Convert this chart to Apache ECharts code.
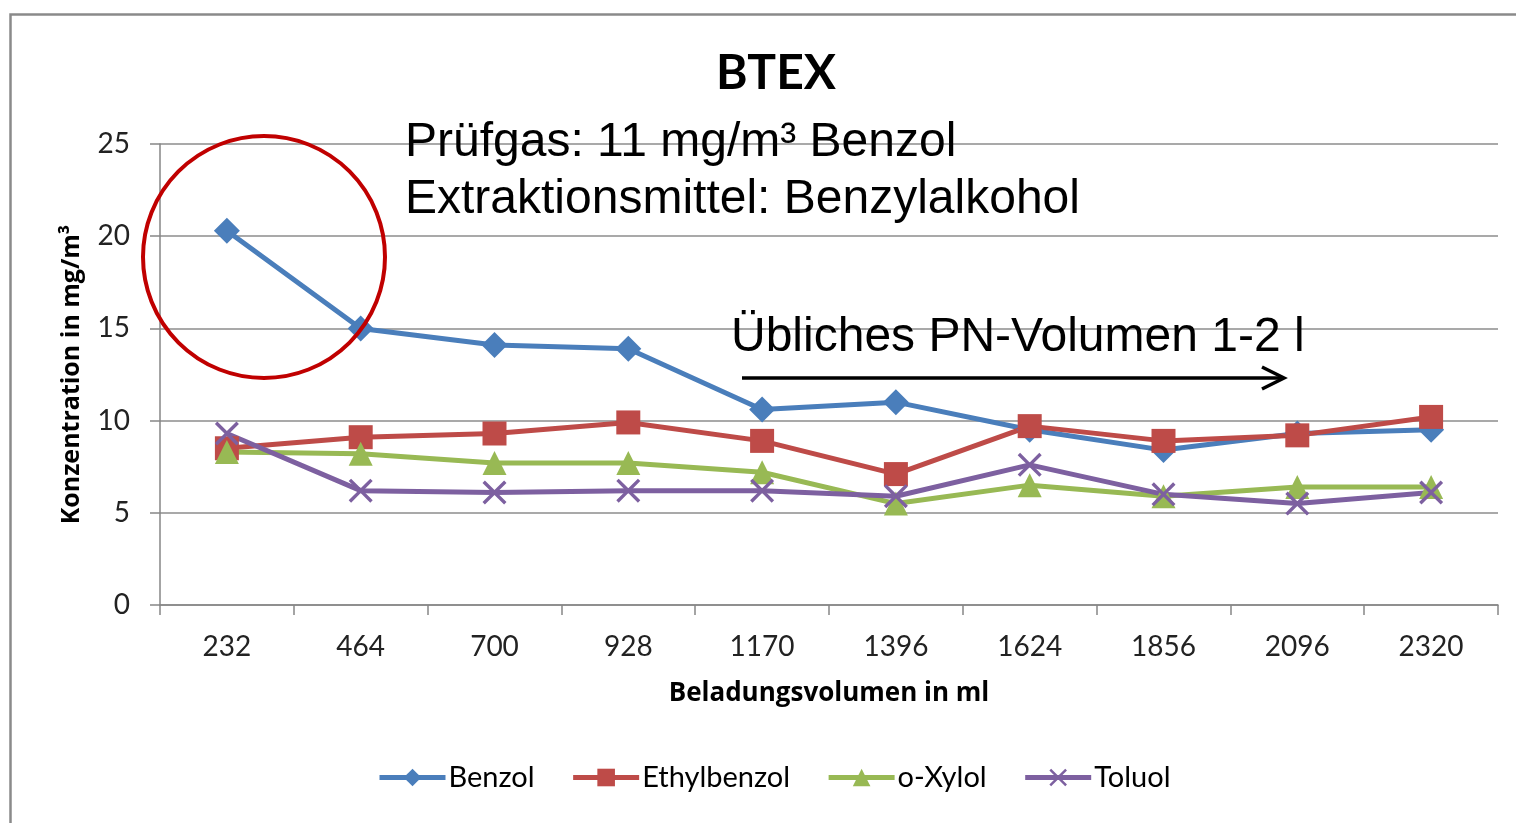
<!DOCTYPE html>
<html>
<head>
<meta charset="utf-8">
<script src="https://cdn.jsdelivr.net/npm/echarts@6/dist/echarts.min.js"></script>
<style>
  html, body { margin: 0; padding: 0; background: #fff; }
  #main { width: 1516px; height: 823px; }
</style>
</head>
<body>
<div id="main"></div>
<script>
// Daten
var volumes = ['232', '464', '700', '928', '1170', '1396', '1624', '1856', '2096', '2320'];
var benzol = [20.3, 15.0, 14.1, 13.9, 10.6, 11.0, 9.5, 8.4, 9.3, 9.5];
var ethylbenzol = [8.5, 9.1, 9.3, 9.9, 8.9, 7.1, 9.7, 8.9, 9.2, 10.2];
var oXylol = [8.3, 8.2, 7.7, 7.7, 7.2, 5.5, 6.5, 5.9, 6.4, 6.4];
var toluol = [9.3, 6.2, 6.1, 6.2, 6.2, 5.9, 7.6, 6.0, 5.5, 6.1];
var yTicks = [0, 5, 10, 15, 20, 25];

var chart = echarts.init(document.getElementById('main'));

var xPath = 'path://M0,1L1,0L5,4L9,0L10,1L6,5L10,9L9,10L5,6L1,10L0,9L4,5Z';
var labelFont = 'Lato';
var nameFont = 'Open Sans';

function mkSeries(name, data, color, symbol, size) {
    return {
        name: name,
        type: 'line',
        data: data,
        symbol: symbol,
        symbolSize: size,
        showAllSymbol: true,
        lineStyle: { color: color, width: 5 },
        itemStyle: { color: color },
        emphasis: { disabled: true }
    };
}

var option = {
    animation: false,
    backgroundColor: '#fff',
    title: {
        text: 'BTEX',
        left: 771,
        top: 45,
        textAlign: 'center',
        textStyle: { fontFamily: labelFont, fontWeight: 'bold', fontSize: 48, color: '#000' }
    },
    legend: {
        bottom: 26,
        left: 372,
        itemWidth: 66,
        itemHeight: 22,
        itemGap: 36,
        lineStyle: { width: 5 },
        textStyle: { fontFamily: labelFont, fontSize: 29, color: '#000', padding: [0, 0, 0, -2] },
        data: ['Benzol', 'Ethylbenzol', 'o-Xylol', 'Toluol']
    },
    grid: { left: 160, right: 18, top: 144, bottom: 218 },
    xAxis: {
        type: 'category',
        data: volumes,
        boundaryGap: true,
        name: 'Beladungsvolumen in ml',
        nameLocation: 'middle',
        nameGap: 76,
        nameTextStyle: { fontFamily: nameFont, fontWeight: 'bold', fontSize: 26, color: '#000' },
        axisLine: { lineStyle: { color: '#868686', width: 1.5 } },
        axisTick: { show: true, length: 10, lineStyle: { color: '#868686', width: 1.5 } },
        axisLabel: { fontFamily: labelFont, fontSize: 28, color: '#222', margin: 28 }
    },
    yAxis: {
        type: 'value',
        min: 0,
        max: 25,
        interval: 5,
        name: 'Konzentration in mg/m³',
        nameLocation: 'middle',
        nameRotate: 90,
        nameGap: 76,
        nameTextStyle: { fontFamily: nameFont, fontWeight: 'bold', fontSize: 25, color: '#000' },
        axisLine: { show: true, lineStyle: { color: '#868686', width: 1.5 } },
        axisTick: { show: true, length: 10, lineStyle: { color: '#868686', width: 1.5 } },
        axisLabel: {
            fontFamily: labelFont, fontSize: 28, color: '#222', margin: 30,
            formatter: function (v) { return yTicks.indexOf(v) >= 0 ? String(v) : ''; }
        },
        splitLine: { lineStyle: { color: '#8c8c8c', width: 1.5 } }
    },
    graphic: [
        {
            type: 'rect',
            left: 8, top: 12, silent: true,
            shape: { x: 0, y: 0, width: 1530, height: 830 },
            style: { fill: 'none', stroke: '#8a8a8a', lineWidth: 2.5 }
        },
        {
            type: 'circle',
            silent: true,
            shape: { cx: 264, cy: 257, r: 121 },
            style: { fill: 'none', stroke: '#C00000', lineWidth: 4 },
            z: 100
        },
        {
            type: 'text',
            left: 405, top: 119, silent: true,
            style: { text: 'Prüfgas: 11 mg/m³ Benzol', font: '48px "Liberation Sans"', fill: '#000' },
            z: 100
        },
        {
            type: 'text',
            left: 405, top: 176, silent: true,
            style: { text: 'Extraktionsmittel: Benzylalkohol', font: '48px "Liberation Sans"', fill: '#000' },
            z: 100
        },
        {
            type: 'text',
            left: 731, top: 314, silent: true,
            style: { text: 'Übliches PN-Volumen 1-2 l', font: '48px "Liberation Sans"', fill: '#000' },
            z: 100
        },
        {
            type: 'line',
            silent: true,
            shape: { x1: 742, y1: 378, x2: 1283, y2: 378 },
            style: { stroke: '#000', lineWidth: 3.5 },
            z: 100
        },
        {
            type: 'polyline',
            silent: true,
            shape: { points: [[1262, 367], [1284, 378], [1262, 389]] },
            style: { stroke: '#000', lineWidth: 3.5, fill: 'none' },
            z: 100
        }
    ],
    series: [
        mkSeries('Benzol', benzol, '#4A7EBB', 'diamond', 26),
        mkSeries('Ethylbenzol', ethylbenzol, '#BE4B48', 'rect', 24),
        mkSeries('o-Xylol', oXylol, '#98B954', 'triangle', 24),
        mkSeries('Toluol', toluol, '#7D60A0', xPath, 24)
    ]
};

chart.setOption(option);

window.addEventListener('resize', function () {
    chart.resize();
});
</script>
</body>
</html>
